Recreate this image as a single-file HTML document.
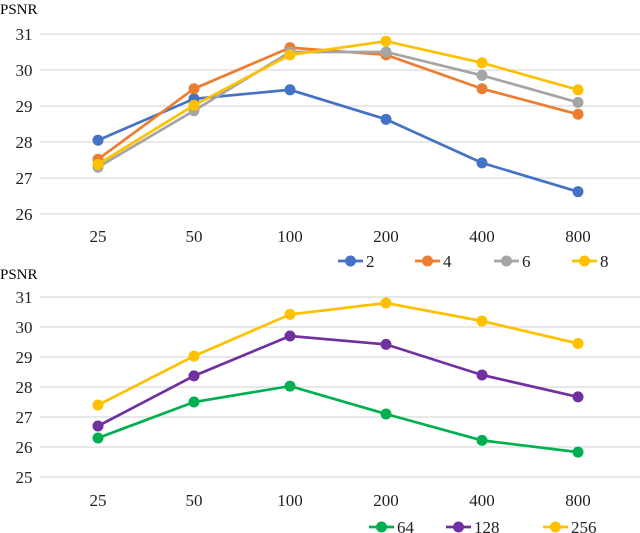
<!DOCTYPE html>
<html><head><meta charset="utf-8"><style>
html,body{margin:0;padding:0;background:#fff;}
svg{display:block;font-family:"Liberation Serif",serif;}
</style></head><body>
<svg id="c" width="640" height="533"></svg>
<script>
const categories=["25","50","100","200","400","800"];
const topNames=["2","4","6","8"];
const topS2=[28.05,29.2,29.45,28.63,27.42,26.62];
const topS4=[27.52,29.48,30.62,30.42,29.48,28.77];
const topS6=[27.3,28.87,30.5,30.5,29.85,29.1];
const topS8=[27.38,29.02,30.42,30.8,30.2,29.45];
const topTicks=[26,27,28,29,30,31];
const botNames=["64","128","256"];
const botS64=[26.3,27.5,28.03,27.1,26.22,25.83];
const botS128=[26.7,28.37,29.7,29.42,28.4,27.67];
const botS256=[27.4,29.03,30.42,30.8,30.2,29.45];
const botTicks=[25,26,27,28,29,30,31];

const svg=document.getElementById('c');
const NS='http://www.w3.org/2000/svg';
function mk(tag,attrs,parent){const e=document.createElementNS(NS,tag);for(const k in attrs)e.setAttribute(k,attrs[k]);(parent||svg).appendChild(e);return e;}
const xOf=i=>98+i*96;

function chart(opts){
  const g=mk('g',{});
  
  
  const y=v=>opts.y0-(v-opts.t0)*opts.ppu;
  const t=mk('text',{x:0,y:opts.titleY,'font-size':15,fill:'#000'},g);t.textContent='PSNR';
  
  
  opts.ticks.forEach(v=>{
    const l=mk('line',{x1:40,x2:640,y1:y(v),y2:y(v),stroke:'#d9d9d9','stroke-width':1.3},g);
    
    
    const tx=mk('text',{x:24,y:y(v)+6,'font-size':17,'text-anchor':'middle',fill:'#222'},g);tx.textContent=v;
    
    
  });
  categories.forEach((c,i)=>{
    const tx=mk('text',{x:xOf(i),y:opts.xLabY,'font-size':17,'text-anchor':'middle',fill:'#222'},g);tx.textContent=c;
    
    
  });
  opts.series.forEach((s,si)=>{
    const sg=mk('g',{},g);
    
    
    const pts=s.map((v,i)=>xOf(i)+','+y(v)).join(' ');
    mk('polyline',{points:pts,fill:'none',stroke:opts.colors[si],'stroke-width':2.7},sg);
    s.forEach((v,i)=>{
      const p=mk('circle',{cx:xOf(i),cy:y(v),r:5.5,fill:opts.colors[si]},sg);
      
      
    });
    const lx=opts.legX[si];
    const lg=mk('g',{},g);
    
    
    mk('line',{x1:lx,x2:lx+25,y1:opts.legY,y2:opts.legY,stroke:opts.colors[si],'stroke-width':2.7},lg);
    mk('circle',{cx:lx+12.5,cy:opts.legY,r:5.5,fill:opts.colors[si]},lg);
    const lt=mk('text',{x:lx+28,y:opts.legY+6,'font-size':17,fill:'#222'},lg);lt.textContent=opts.names[si];
  });
}
chart({name:'top-chart',y0:214,t0:26,ppu:36,ticks:topTicks,titleY:14,xLabY:242,legY:261,
  series:[topS2,topS4,topS6,topS8],names:topNames,colors:['#4472C4','#ED7D31','#A5A5A5','#FFC000'],legX:[338,415,494,572]});
chart({name:'bottom-chart',y0:477,t0:25,ppu:30,ticks:botTicks,titleY:279,xLabY:506,legY:527,
  series:[botS64,botS128,botS256],names:botNames,colors:['#00B050','#7030A0','#FFC000'],legX:[369,446,543]});
</script>
</body></html>
